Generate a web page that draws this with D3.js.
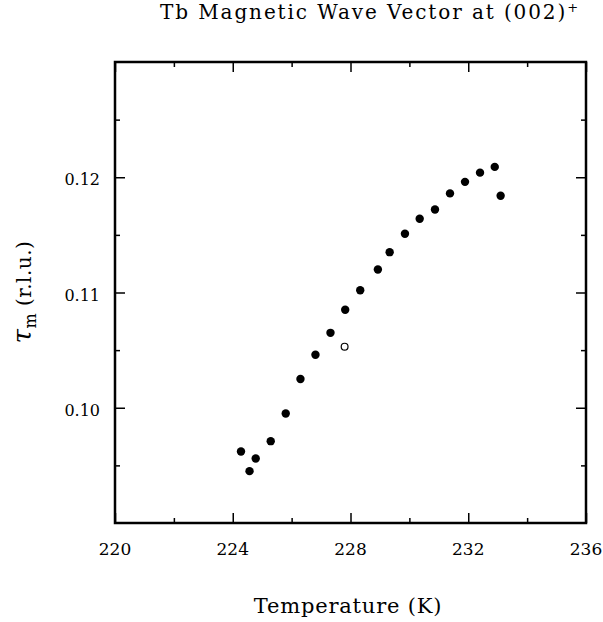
<!DOCTYPE html>
<html>
<head>
<meta charset="utf-8">
<script src="https://cdn.jsdelivr.net/npm/d3@7"></script>
<style>
  body { margin: 0; background: #fff; }
  text { font-family: "DejaVu Serif", serif; fill: #000; }
</style>
</head>
<body>
<svg id="chart" width="603" height="622"></svg>
<script>
// temperature (K) of each filled point
const temps = [224.28, 224.57, 224.78, 225.29, 225.80, 226.30, 226.81, 227.32, 227.82, 228.33,
               228.93, 229.33, 229.85, 230.35, 230.87, 231.38, 231.89, 232.40, 232.90, 233.10];
// wave vector tau_m (r.l.u.)
const tau = [0.0962, 0.0945, 0.0956, 0.0971, 0.0995, 0.1025, 0.1046, 0.1065, 0.1085, 0.1102,
             0.1120, 0.1135, 0.1151, 0.1164, 0.1172, 0.1186, 0.1196, 0.1204, 0.1209, 0.1184];
// the single open point
const openTemps = [227.80];
const openTau = [0.1053];

const xMajor = [220, 224, 228, 232, 236];
const xMinor = [222, 226, 230, 234];
const yMajor = [0.10, 0.11, 0.12];
const yMinor = [0.095, 0.105, 0.115, 0.125];

const plotLeft = 115, plotRight = 586, plotTop = 62, plotBottom = 523;

const svg = d3.select("#chart");

const x = d3.scaleLinear().domain([220, 236]).range([plotLeft, plotRight]);
const y = d3.scaleLinear().domain([0.09, 0.13]).range([plotBottom, plotTop]);

// ticks point inward on all four sides
function ticks(axisFn, scale, values, size, tr) {
    const g = svg.append("g")
        .attr("transform", tr)
        .call(axisFn(scale).tickValues(values).tickSize(size).tickFormat(""));
    g.select(".domain").remove();
    g.selectAll(".tick line").attr("stroke", "#000").attr("stroke-width", 1.5);
    return g;
}

ticks(d3.axisBottom, x, xMajor, -10, `translate(0,${plotBottom})`);
ticks(d3.axisBottom, x, xMinor, -5, `translate(0,${plotBottom})`);
ticks(d3.axisTop, x, xMajor, -10, `translate(0,${plotTop})`);
ticks(d3.axisTop, x, xMinor, -5, `translate(0,${plotTop})`);
ticks(d3.axisLeft, y, yMajor, -10, `translate(${plotLeft},0)`);
ticks(d3.axisLeft, y, yMinor, -5, `translate(${plotLeft},0)`);
ticks(d3.axisRight, y, yMajor, -10, `translate(${plotRight},0)`);
ticks(d3.axisRight, y, yMinor, -5, `translate(${plotRight},0)`);

svg.append("rect")
    .attr("x", plotLeft).attr("y", plotTop)
    .attr("width", plotRight - plotLeft).attr("height", plotBottom - plotTop)
    .attr("fill", "none").attr("stroke", "#000").attr("stroke-width", 2.5);

// tick labels
svg.append("g").selectAll("text")
    .data(xMajor)
    .join("text")
    .attr("x", d => x(d))
    .attr("y", plotBottom + 32)
    .attr("text-anchor", "middle")
    .attr("font-size", 17)
    .text(d => d);

svg.append("g").selectAll("text")
    .data(yMajor)
    .join("text")
    .attr("x", plotLeft - 15)
    .attr("y", d => y(d) + 8)
    .attr("text-anchor", "end")
    .attr("font-size", 16)
    .text(d => d3.format(".2f")(d));

// points
const pts = temps.map((t, i) => ({ t: t, v: tau[i] }));
svg.append("g").selectAll("circle")
    .data(pts)
    .join("circle")
    .attr("cx", d => x(d.t))
    .attr("cy", d => y(d.v))
    .attr("r", 4.2)
    .attr("fill", "#000");

const openPts = openTemps.map((t, i) => ({ t: t, v: openTau[i] }));
svg.append("g").selectAll("circle")
    .data(openPts)
    .join("circle")
    .attr("cx", d => x(d.t))
    .attr("cy", d => y(d.v))
    .attr("r", 3.4)
    .attr("fill", "#fff")
    .attr("stroke", "#000")
    .attr("stroke-width", 1.2);

// title
const title = svg.append("text")
    .attr("x", 160)
    .attr("y", 19)
    .attr("font-size", 20)
    .attr("letter-spacing", 1.9)
    .text("Tb Magnetic Wave Vector at (002)");
title.append("tspan")
    .attr("font-size", 13)
    .attr("dy", -7)
    .text("+");

// x label
svg.append("text")
    .attr("x", 348)
    .attr("y", 613)
    .attr("text-anchor", "middle")
    .attr("font-size", 21)
    .attr("letter-spacing", 0.8)
    .text("Temperature (K)");

// y label
const ylab = svg.append("text")
    .attr("transform", "translate(31,292) rotate(-90)")
    .attr("text-anchor", "middle")
    .attr("font-size", 20)
    .attr("letter-spacing", 0.5);
ylab.append("tspan")
    .attr("font-style", "italic")
    .attr("font-size", 26)
    .text("τ");
ylab.append("tspan")
    .attr("font-size", 16)
    .attr("dy", 5)
    .text("m");
ylab.append("tspan")
    .attr("dy", -5)
    .text(" (r.l.u.)");
</script>
</body>
</html>
